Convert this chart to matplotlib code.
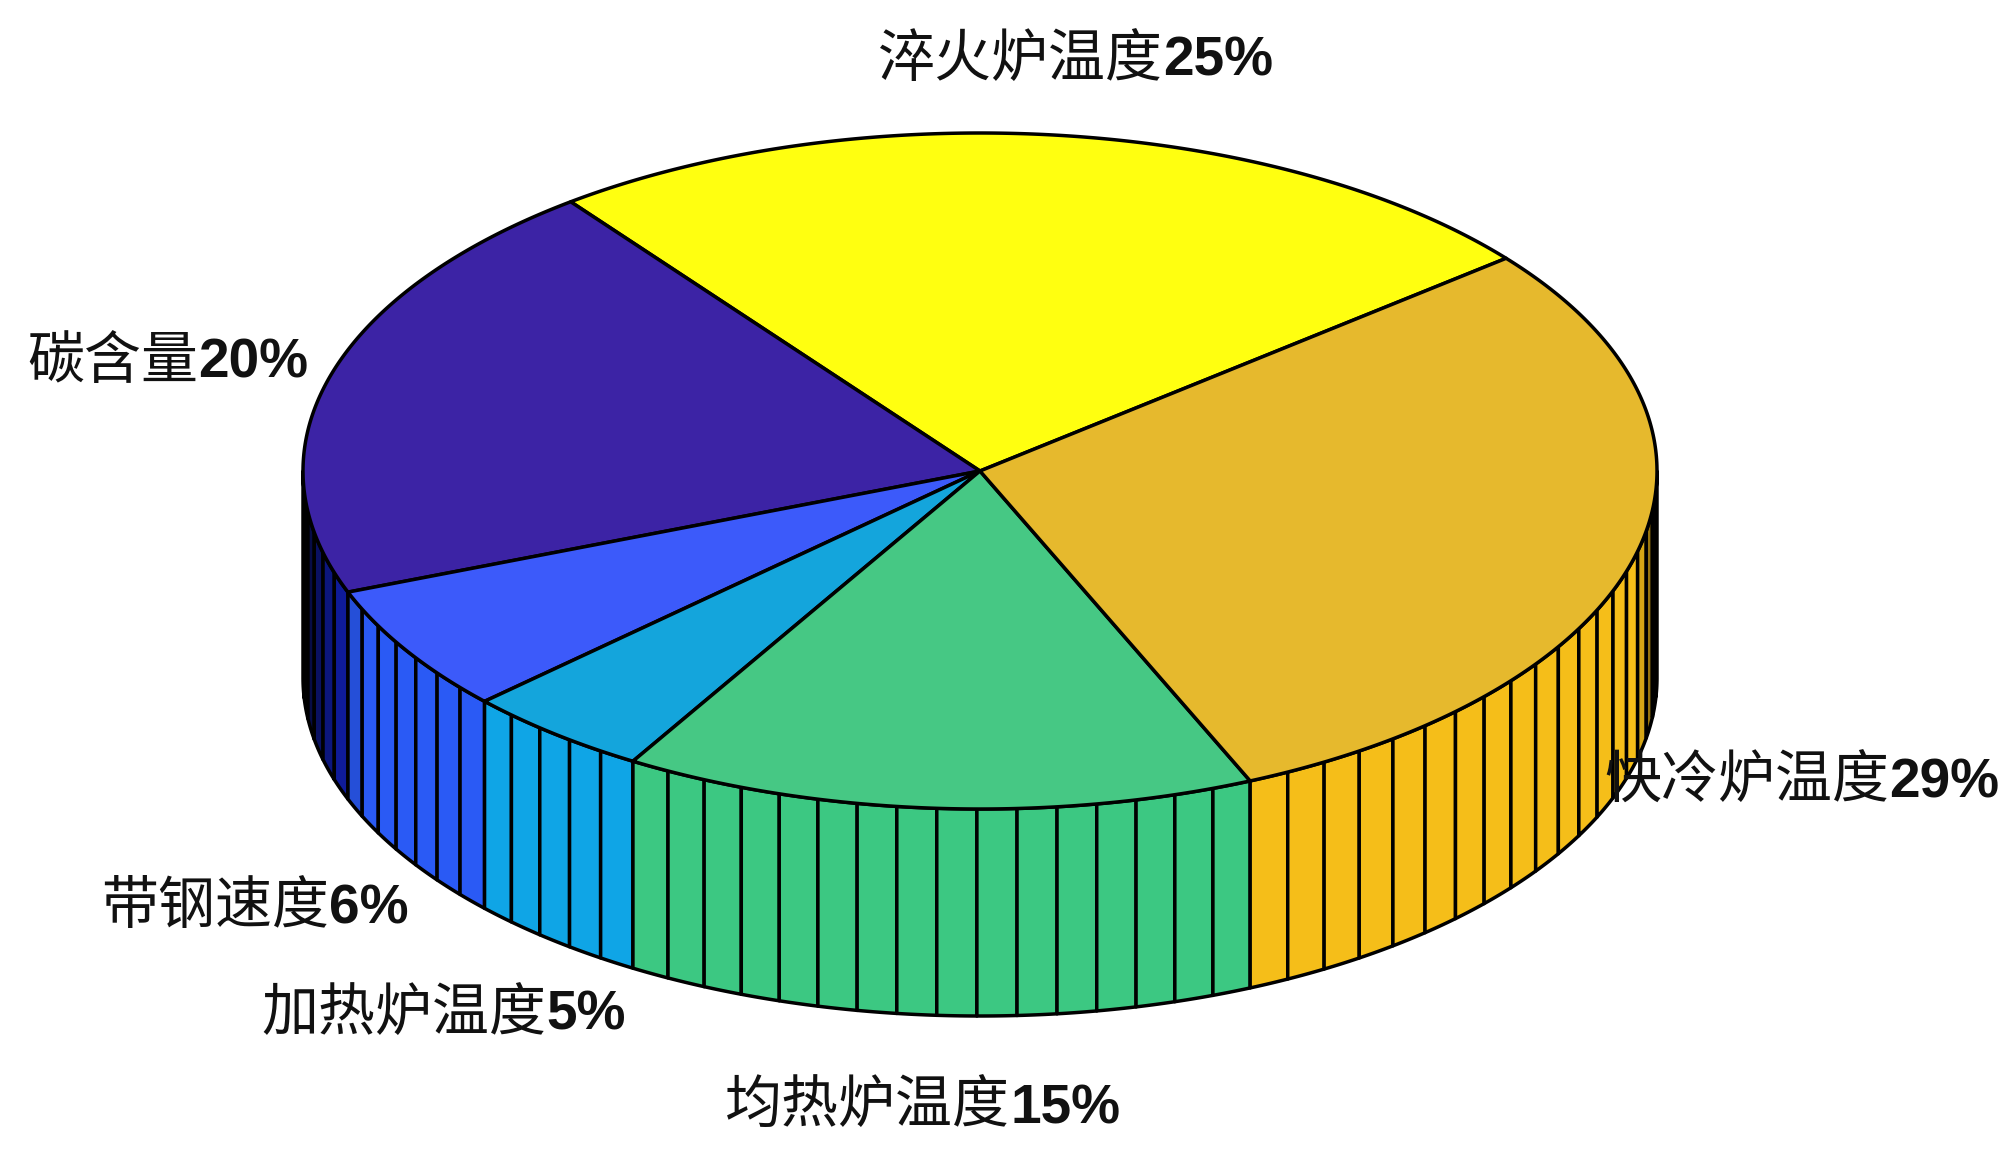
import numpy as np
import matplotlib
matplotlib.use("Agg")
import matplotlib.pyplot as plt
from matplotlib.patches import Polygon

# shares, counter-clockwise from the yellow slice
names = ["淬火炉温度", "碳含量", "带钢速度", "加热炉温度", "均热炉温度", "快冷炉温度"]
shares = [24.5, 20.5, 6.1, 4.5, 15.1, 29.3]
shown_pct = [25, 20, 6, 5, 15, 29]

top_colors = ["#FFFF10", "#3C23A5", "#3C5AFA", "#14A5DC", "#46C884", "#E6B92D"]
side_colors = ["#FFFF10", "#1423C8", "#2A5AF5", "#0FA5E6", "#3CC882", "#F5BE19"]

# x where the Chinese name ends and the number starts, and the text baseline
label_pos = [(1163, 76), (198, 378), (329, 923), (546, 1030), (1010, 1123), (1889, 798)]

# pie geometry in figure pixels
CX, CY = 980, 471
RX, RY = 677, 338
DEPTH = 207
START_DEG = 39.0
LW = 2.5

plt.rcParams["font.family"] = ["Liberation Sans", "Noto Sans CJK SC"]


def rim(deg, drop=0):
    t = np.deg2rad(deg)
    return np.column_stack([CX + RX * np.cos(t), CY - RY * np.sin(t) + drop])


def shade(deg):
    # side darkens quickly towards the left and right silhouette
    k = 2.3 if deg < 270 else 4.2
    return float(np.clip(k * abs(np.sin(np.deg2rad(deg))), 0, 1))


fig = plt.figure(figsize=(20, 11.53), dpi=100)
ax = fig.add_axes([0, 0, 1, 1])
ax.set_xlim(0, 2000)
ax.set_ylim(1153, 0)
ax.axis("off")

edges = START_DEG + np.cumsum([0] + shares) * 3.6

# side facets first, one per percent like pie3
for i, v in enumerate(shares):
    n = int(np.ceil(v))
    ticks = np.linspace(edges[i], edges[i + 1], n + 1)
    base = np.array(matplotlib.colors.to_rgb(side_colors[i]))
    for t0, t1 in zip(ticks[:-1], ticks[1:]):
        lo, hi = max(t0, 180), min(t1, 360)
        if hi <= lo:
            continue
        arc = np.linspace(lo, hi, 8)
        pts = np.vstack([rim(arc), rim(arc[::-1], DEPTH)])
        col = base * shade((lo + hi) / 2)
        ax.add_patch(Polygon(pts, closed=True, facecolor=col, edgecolor="black",
                             linewidth=LW, joinstyle="round", zorder=2))

# top slices
for i in range(len(shares)):
    arc = np.linspace(edges[i], edges[i + 1], 200)
    pts = np.vstack([[CX, CY], rim(arc)])
    ax.add_patch(Polygon(pts, closed=True, facecolor=top_colors[i], edgecolor="black",
                         linewidth=LW, joinstyle="round", zorder=3))

for name, pct, (x, y) in zip(names, shown_pct, label_pos):
    ax.text(x, y, name, fontsize=41, color="#111111", ha="right", va="baseline", zorder=5)
    ax.text(x, y, f"{pct}%", fontsize=39.6, fontweight="bold", color="#111111",
            ha="left", va="baseline", zorder=5)

fig.savefig("out.png", dpi=100)
plt.close(fig)
